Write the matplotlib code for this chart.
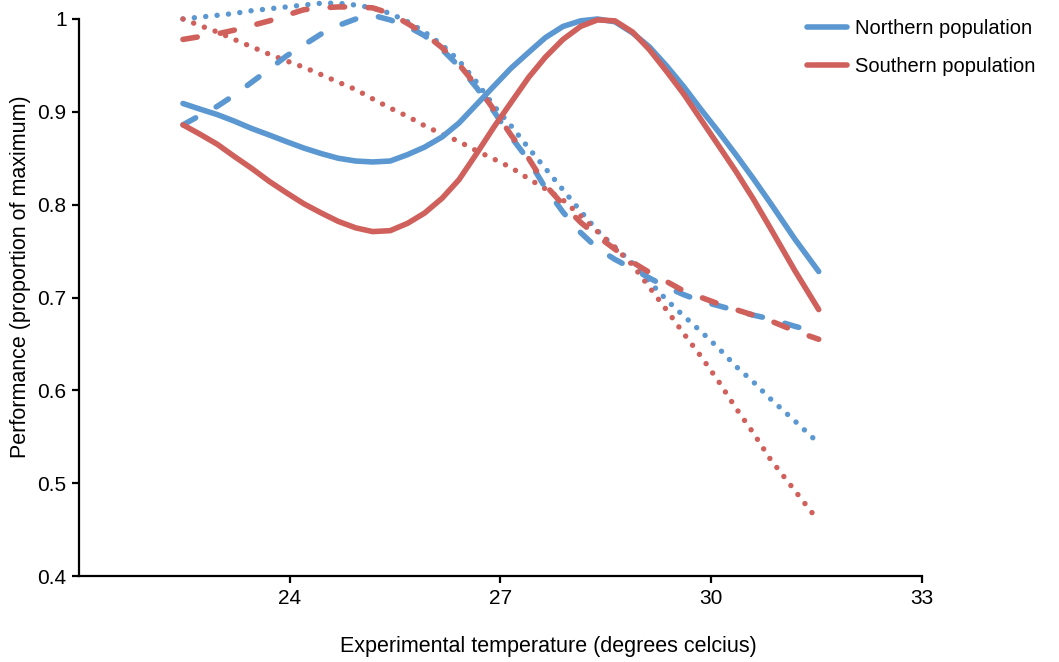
import matplotlib.pyplot as plt

temps = [22.48, 22.72, 22.97, 23.21, 23.46, 23.71, 23.95, 24.20, 24.45, 24.69,
         24.94, 25.18, 25.43, 25.68, 25.92, 26.17, 26.41, 26.66, 26.91, 27.15,
         27.40, 27.64, 27.89, 28.14, 28.38, 28.63, 28.88, 29.12, 29.37, 29.61,
         29.86, 30.11, 30.35, 30.60, 30.84, 31.19, 31.53]

# solid lines
north_solid = [0.909, 0.903, 0.897, 0.890, 0.882, 0.875, 0.868, 0.861, 0.855, 0.850,
               0.847, 0.846, 0.847, 0.854, 0.862, 0.873, 0.888, 0.908, 0.928, 0.947,
               0.964, 0.980, 0.992, 0.998, 1.000, 0.997, 0.985, 0.970, 0.949, 0.927,
               0.902, 0.878, 0.854, 0.828, 0.802, 0.763, 0.728]
south_solid = [0.886, 0.876, 0.865, 0.852, 0.839, 0.825, 0.813, 0.801, 0.791, 0.782,
               0.775, 0.771, 0.772, 0.780, 0.791, 0.807, 0.827, 0.855, 0.884, 0.910,
               0.937, 0.959, 0.978, 0.992, 0.999, 0.998, 0.986, 0.967, 0.943, 0.919,
               0.891, 0.863, 0.836, 0.806, 0.775, 0.729, 0.687]

# dashed lines
north_dashed = [0.886, 0.896, 0.906, 0.918, 0.932, 0.946, 0.960, 0.972, 0.984, 0.993,
                1.000, 1.004, 0.999, 0.992, 0.982, 0.967, 0.949, 0.926, 0.900, 0.873,
                0.848, 0.818, 0.792, 0.770, 0.753, 0.741, 0.731, 0.721, 0.711, 0.703,
                0.696, 0.691, 0.686, 0.681, 0.677, 0.669, 0.662]
south_dashed = [0.978, 0.981, 0.984, 0.988, 0.993, 0.998, 1.004, 1.010, 1.012, 1.013,
                1.013, 1.012, 1.006, 0.995, 0.984, 0.969, 0.951, 0.928, 0.902, 0.875,
                0.850, 0.821, 0.800, 0.781, 0.766, 0.752, 0.738, 0.727, 0.717, 0.707,
                0.700, 0.693, 0.687, 0.681, 0.675, 0.664, 0.655]

# dotted lines
north_dotted = [1.000, 1.002, 1.004, 1.006, 1.009, 1.011, 1.013, 1.015, 1.017, 1.017,
                1.015, 1.012, 1.006, 0.997, 0.986, 0.972, 0.955, 0.932, 0.906, 0.885,
                0.861, 0.839, 0.816, 0.793, 0.772, 0.754, 0.737, 0.717, 0.697, 0.680,
                0.663, 0.645, 0.626, 0.609, 0.591, 0.567, 0.543]
south_dotted = [1.000, 0.993, 0.986, 0.978, 0.970, 0.962, 0.955, 0.948, 0.940, 0.932,
                0.924, 0.914, 0.904, 0.895, 0.885, 0.876, 0.868, 0.858, 0.849, 0.840,
                0.828, 0.817, 0.805, 0.788, 0.771, 0.754, 0.735, 0.711, 0.686, 0.661,
                0.636, 0.609, 0.581, 0.554, 0.526, 0.492, 0.459]

x_ticks = [24, 27, 30, 33]
y_ticks = [0.4, 0.5, 0.6, 0.7, 0.8, 0.9, 1.0]
y_tick_labels = ["0.4", "0.5", "0.6", "0.7", "0.8", "0.9", "1"]

BLUE = "#5b97d1"
RED = "#d0605b"

plt.rcParams['font.family'] = ['Liberation Sans', 'DejaVu Sans']

fig = plt.figure(figsize=(10.59, 6.62), dpi=100)
ax = fig.add_axes([0.0746, 0.1299, 0.7960, 0.8414])

solid_kw = dict(linewidth=4.0, solid_capstyle='round', clip_on=False, zorder=3)
dash_kw = dict(linewidth=4.0, linestyle=(0, (2.6, 4.2)), dash_capstyle='round',
               clip_on=False, zorder=2)
dot_kw = dict(linewidth=3.9, linestyle=(0, (0.01, 2.1)), dash_capstyle='round',
              clip_on=False, zorder=2)

ax.plot(temps, north_dotted, color=BLUE, **dot_kw)
ax.plot(temps, south_dotted, color=RED, **dot_kw)
ax.plot(temps, north_dashed, color=BLUE, **dash_kw)
ax.plot(temps, south_dashed, color=RED, **dash_kw)
ax.plot(temps, north_solid, color=BLUE, label="Northern population", **solid_kw)
ax.plot(temps, south_solid, color=RED, label="Southern population", **solid_kw)

ax.set_xlim(21, 33)
ax.set_ylim(0.4, 1.0)
ax.set_xticks(x_ticks)
ax.set_xticklabels([str(t) for t in x_ticks])
ax.set_yticks(y_ticks)
ax.set_yticklabels(y_tick_labels)

for side in ['top', 'right']:
    ax.spines[side].set_visible(False)
for side in ['left', 'bottom']:
    ax.spines[side].set_linewidth(1.6)
ax.tick_params(axis='both', direction='out', length=5, width=1.6,
               labelsize=15, pad=4)

ax.set_xlabel("Experimental temperature (degrees celcius)", fontsize=15.5)
ax.set_ylabel("Performance (proportion of maximum)", fontsize=15.5)
ax.xaxis.set_label_coords(0.557, -0.108)
ax.yaxis.set_label_coords(-0.057, 0.537)

fig.legend(loc='upper left', bbox_to_anchor=(0.745, 0.999), frameon=False,
           fontsize=14.5, handlelength=2.0, handletextpad=0.4, labelspacing=0.95)

fig.savefig("out.png", dpi=100)
